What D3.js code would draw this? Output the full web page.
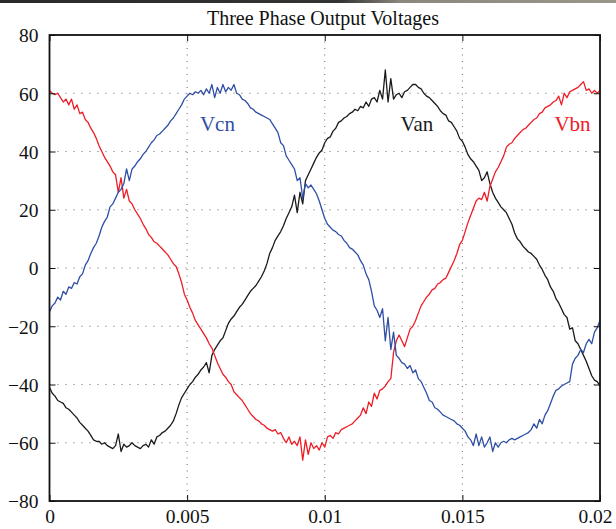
<!DOCTYPE html>
<html lang="en">
<head>
<meta charset="UTF-8">
<title>Three Phase Output Voltages</title>
<script src="https://d3js.org/d3.v7.min.js"></script>
<style>
    body { margin: 0; background: #fff; }
    svg { display: block; }
    .tick-label { font-family: "Liberation Serif", "Times New Roman", serif; font-size: 19.5px; fill: #111; }
    .title { font-family: "Liberation Serif", "Times New Roman", serif; font-size: 20px; fill: #111; }
    .phase { font-family: "Liberation Serif", "Times New Roman", serif; font-size: 21px; }
</style>
</head>
<body>
<svg width="616" height="529"></svg>
<script>
// sample step of the recorded waveform (s)
var dt = 0.0001;

var xTicks = [0, 0.005, 0.01, 0.015, 0.02];
var xTickLabels = ["0", "0.005", "0.01", "0.015", "0.02"];
var yTicks = [-80, -60, -40, -20, 0, 20, 40, 60, 80];
var yTickLabels = ["\u221280", "\u221260", "\u221240", "\u221220", "0", "20", "40", "60", "80"];

var phaseNames = ["Van", "Vbn", "Vcn"];

var van = [
  -41,-43,-44,-45.5,-46,-46.5,-48,-48.5,-49.5,-50.5,-51.5,-53,-54,-55,-56,-57.5,-59,-59.5,-59.5,-60.5,
  -60,-61,-61.5,-62,-61,-57,-63,-60.5,-61.5,-61,-60,-61,-61.5,-62,-61,-60.5,-61.5,-59,-60.5,-58,
  -57.5,-56.5,-56,-55,-54,-52.5,-50,-47,-44.5,-43,-41.5,-40,-39,-37.5,-36.5,-35,-34,-32.5,-36,-30,
  -28,-26.5,-25,-24,-21.5,-19,-17.5,-16.5,-15,-13.5,-12.5,-11,-9.5,-8,-7,-6,-4.5,-3,-1,1.5,
  5,7,9.5,11,12.5,14.5,17,19,21,25,19,26,22,30,32,34,36,38,39.5,40.5,
  43,44.5,45,47,48,50,50.5,51.5,52,53,53.5,54.5,54,55.5,55,57,55.5,58,58.5,57,
  61,58,68,57,65,58,59.5,60,58.5,60.5,61,62,63,63,62,61.5,60,59,58.5,57.5,
  56.5,55.5,54,53,52.5,50.5,50,48.5,47,44.5,43.5,41.5,39,37.5,36.5,35,33.5,30,31,33,
  29,26,24,22.5,21,20,19,17,15,12,10,9,7.5,6.5,5.5,5,4,3,1,-0.5,
  -2.5,-4,-6.5,-8,-10.5,-12,-14,-16,-17,-21,-20.5,-25,-26,-28,-30,-32,-34.5,-37,-38.5,-39,
  -40.5
];

var vbn = [
  61,60,59.5,60,58.5,57,58,56,58,54.5,56,53,53.5,51,50,48,46.5,44.5,42,40,
  38,36.5,35,33,32,26,31,24,27,23,22,20,18.5,17,15,13.5,11.5,10.5,9,8.5,
  7.5,6.5,5.5,4.5,3,1.5,0.5,-2,-5,-9,-11,-13.5,-15.5,-18,-19.5,-21,-22.5,-24,-26,-27.5,
  -30,-32.5,-34.5,-36.5,-37.5,-39,-40,-42.5,-43.5,-44.5,-45.5,-47,-48.5,-50,-51,-52,-52.5,-53.5,-54,-55,
  -55.5,-56,-55.5,-57,-56.5,-58.5,-60,-58,-60.5,-59.5,-61,-58,-66,-59,-64,-60,-62,-61,-62.5,-60,
  -61.5,-58,-57.5,-58.5,-56.5,-57,-55.5,-55,-54.5,-54,-53.5,-52.5,-51.5,-50.5,-48,-50,-46,-47.5,-43,-45,
  -42,-41.5,-40.5,-39,-38,-29,-25,-23,-25,-27,-24,-21,-20,-18,-15.5,-13,-11.5,-10,-9,-7.5,
  -7,-5.5,-5,-4,-3.5,-1.5,0.5,2.5,5,8,9.5,12.5,15.5,18,20.5,23,24,23.5,26,23,
  28,30.5,33,34.5,36.5,38.5,41.5,42.5,43,44.5,45.5,46.5,47.5,48,49,50,51,51.5,53,53.5,
  55,55.5,56,57,57.5,59,56,60,58.5,60.5,61,61.5,62,63,64,61,61.5,60,61,60,
  61
];

var vcn = [
  -15,-13,-12,-10,-11,-8,-9,-6.5,-7,-5,-5.5,-3,-2,1,2.5,5,7,8.5,11,14,
  16,17.5,21,22,24,26,27,29,34,30,34,35,36.5,37.5,39,40,41.5,43,44,45.5,
  46,47,48,49,50.5,51.5,53,54.5,56,58,59,60,59.5,60.5,60,61,59.5,61.5,60,63,
  58.5,62,60,63,60.5,62,61,63,60,59.5,58,57.5,56.5,55,54.5,53.5,53,52.5,52,51.5,
  51,49.5,48,46.5,43,42,38.5,37,35.5,34,30,31,24,29,27.5,28.5,27,25.5,23,20,
  17,15,14,13,12.5,11.5,11,9.5,8.5,7,6.5,5.5,4.5,2.5,1,-2,-4,-8,-13,-14.5,
  -17,-14,-25,-17,-28,-22,-30,-31,-32.5,-33,-34.5,-33.5,-36,-35,-38,-39,-41,-43,-45.5,-46,
  -48,-48.5,-49.5,-50.5,-51,-51.5,-52,-52.5,-53.5,-54,-55,-56,-58,-59,-61,-57,-61,-58,-61.5,-60,
  -58,-63,-60,-61.5,-60,-59.5,-60,-59,-58.5,-59,-58.5,-58,-57.5,-57,-56.5,-55.5,-53.5,-55,-52,-53.5,
  -50.5,-49,-46.5,-44,-42,-41.5,-40.5,-40,-39.5,-39,-33,-31,-30,-28,-29,-26,-24.5,-26,-22,-20.5,
  -18
];

var seriesColors = { Van: "#1a1a1a", Vbn: "#ee1c25", Vcn: "#2f4fa6" };

var svg = d3.select("svg");

// thin dark strip left over at the top of the scan
var strip = svg.append("defs").append("linearGradient").attr("id", "strip");
strip.append("stop").attr("offset", "0%").attr("stop-color", "#2a2a2a");
strip.append("stop").attr("offset", "55%").attr("stop-color", "#333");
strip.append("stop").attr("offset", "65%").attr("stop-color", "#8a877c");
strip.append("stop").attr("offset", "100%").attr("stop-color", "#9a968a");
svg.append("rect").attr("x", 0).attr("y", 0).attr("width", 616).attr("height", 3).attr("fill", "url(#strip)");

// plot box (names avoid window.top etc.)
var pLeft = 49.5, pRight = 600, pTop = 35, pBottom = 501;

var x = d3.scaleLinear().domain([0, 0.02]).range([pLeft, pRight]);
var y = d3.scaleLinear().domain([-80, 80]).range([pBottom, pTop]);

svg.append("text").attr("class", "title")
    .attr("x", 323).attr("y", 25).attr("text-anchor", "middle")
    .text("Three Phase Output Voltages");

// dotted grid
var grid = svg.append("g");
grid.selectAll(".gx").data(xTicks.slice(1, -1)).enter().append("line")
    .attr("x1", d => x(d)).attr("x2", d => x(d))
    .attr("y1", pTop).attr("y2", pBottom)
    .attr("stroke", "#666").attr("stroke-width", 1).attr("stroke-dasharray", "1,5.5");
grid.selectAll(".gy").data(yTicks.slice(1, -1)).enter().append("line")
    .attr("x1", pLeft).attr("x2", pRight)
    .attr("y1", d => y(d)).attr("y2", d => y(d))
    .attr("stroke", "#666").attr("stroke-width", 1).attr("stroke-dasharray", "1,7");

// curves
var line = d3.line().x((d, i) => x(i * dt)).y(d => y(d));
var plot = svg.append("g");
[["Van", van], ["Vbn", vbn], ["Vcn", vcn]].forEach(function(s) {
    plot.append("path").datum(s[1])
        .attr("fill", "none")
        .attr("stroke", seriesColors[s[0]])
        .attr("stroke-width", 1.3)
        .attr("stroke-linejoin", "round")
        .attr("d", line);
});

// axes with inward ticks
var ax = svg.append("g").attr("transform", "translate(0," + pBottom + ")")
    .call(d3.axisBottom(x).tickValues(xTicks).tickSize(-6).tickPadding(8)
        .tickFormat((d, i) => xTickLabels[i]));
var axTop = svg.append("g").attr("transform", "translate(0," + pTop + ")")
    .call(d3.axisTop(x).tickValues(xTicks).tickSize(-6).tickFormat(""));
var ay = svg.append("g").attr("transform", "translate(" + pLeft + ",0)")
    .call(d3.axisLeft(y).tickValues(yTicks).tickSize(-6).tickPadding(11)
        .tickFormat((d, i) => yTickLabels[i]));
var ayR = svg.append("g").attr("transform", "translate(" + pRight + ",0)")
    .call(d3.axisRight(y).tickValues(yTicks).tickSize(-6).tickFormat(""));

[ax, axTop, ay, ayR].forEach(function(a) {
    a.select(".domain").remove();
    a.selectAll(".tick line").attr("stroke", "#111").attr("stroke-width", 1);
    a.selectAll("text").attr("class", "tick-label").attr("fill", "#111");
    a.attr("font-family", null).attr("font-size", null);
});
ay.selectAll("text").attr("dy", "0.35em");
// last x label sits a little inside the page edge
ax.selectAll(".tick text").filter(d => d === 0.02).attr("dx", -5);

// frame
svg.append("rect").attr("x", pLeft).attr("y", pTop)
    .attr("width", pRight - pLeft).attr("height", pBottom - pTop)
    .attr("fill", "none").attr("stroke", "#111").attr("stroke-width", 1.8);

// phase labels
var labels = [
    { name: "Vcn", t: 0.0061, v: 47 },
    { name: "Van", t: 0.01335, v: 47 },
    { name: "Vbn", t: 0.0190, v: 47 }
];
svg.selectAll(".phase").data(labels).enter().append("text")
    .attr("class", "phase")
    .attr("x", d => x(d.t)).attr("y", d => y(d.v))
    .attr("text-anchor", "middle")
    .attr("fill", d => seriesColors[d.name])
    .text(d => d.name);
</script>
</body>
</html>
